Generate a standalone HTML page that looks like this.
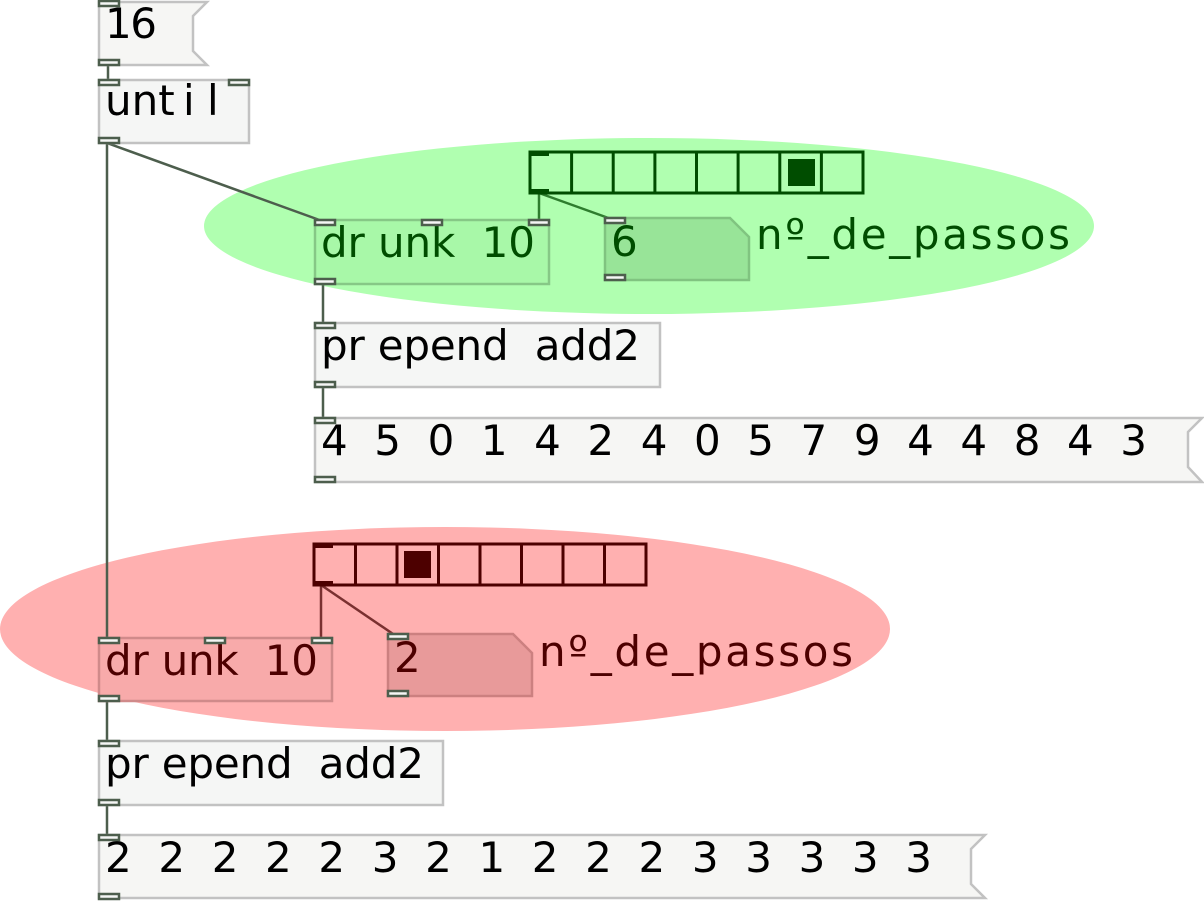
<!DOCTYPE html>
<html><head><meta charset="utf-8"><style>
html,body{margin:0;padding:0;background:#fff;width:1204px;height:901px;overflow:hidden}
text{font-family:"DejaVu Sans","Liberation Sans",sans-serif;font-size:42px;white-space:pre}
</style></head><body>
<svg width="1204" height="901" viewBox="0 0 1204 901" xmlns="http://www.w3.org/2000/svg" xml:space="preserve">
<ellipse cx="649" cy="226" rx="445" ry="88" fill="#b0ffb0"/>
<ellipse cx="445" cy="629" rx="445" ry="102" fill="#ffb0b0"/>

<g stroke="#4d5e4d" stroke-width="2.5" fill="none">
<line x1="108" y1="65" x2="108" y2="80"/>
<line x1="107" y1="143" x2="107" y2="640"/>
<line x1="107" y1="143" x2="325" y2="222"/>
<line x1="323" y1="284" x2="323" y2="325"/>
<line x1="323" y1="387" x2="323" y2="420"/>
<line x1="107" y1="701" x2="107" y2="743"/>
<line x1="107" y1="805" x2="107" y2="837"/>
</g>
<g stroke="#2e7d2e" stroke-width="2.5" fill="none">
<line x1="539" y1="193" x2="539" y2="222"/>
<line x1="539" y1="193" x2="614" y2="220"/>
</g>
<g stroke="#7a3030" stroke-width="2.5" fill="none">
<line x1="321" y1="585" x2="321" y2="640"/>
<line x1="321" y1="585" x2="396" y2="636"/>
</g>

<path d="M99,2 H207 L193,16 V51 L207,65 H99 Z" fill="#f6f6f4" stroke="#c2c2c2" stroke-width="2.5"/>
<text x="105" y="38" textLength="52" lengthAdjust="spacing">16</text>
<rect x="99" y="80" width="150" height="63" fill="#f5f6f5" stroke="#c2c2c2" stroke-width="2.5"/>
<text x="105" y="115">unt</text><text x="183" y="115">i</text><text x="207" y="115">l</text>

<rect x="315" y="220" width="234" height="64" fill="#a8f8a8" stroke="#86c886" stroke-width="2.5"/>
<text x="321" y="257" fill="#004d00" textLength="214" lengthAdjust="spacing">dr unk  10</text>
<path d="M605,218 H730 L749,237 V280 H605 Z" fill="#98e498" stroke="#80c480" stroke-width="2.5"/>
<text x="611" y="256" fill="#004d00">6</text>
<text x="756" y="249" fill="#004d00" textLength="314" lengthAdjust="spacing">nº_de_passos</text>
<g fill="none" stroke="#004d00" stroke-width="3">
<rect x="530" y="152" width="333" height="41"/>
<line x1="571.6" y1="152" x2="571.6" y2="193"/><line x1="613.2" y1="152" x2="613.2" y2="193"/>
<line x1="654.9" y1="152" x2="654.9" y2="193"/><line x1="696.5" y1="152" x2="696.5" y2="193"/>
<line x1="738.1" y1="152" x2="738.1" y2="193"/><line x1="779.8" y1="152" x2="779.8" y2="193"/>
<line x1="821.4" y1="152" x2="821.4" y2="193"/>
</g>
<rect x="788" y="159" width="27" height="27" fill="#004d00"/>
<rect x="529" y="151" width="20" height="5" fill="#004d00"/>
<rect x="529" y="189" width="20" height="5" fill="#004d00"/>

<rect x="315" y="323" width="345" height="64" fill="#f5f6f5" stroke="#c2c2c2" stroke-width="2.5"/>
<text x="321" y="360" textLength="319" lengthAdjust="spacing">pr epend  add2</text>
<path d="M315,418 H1202 L1188,432 V467 L1202,482 H315 Z" fill="#f6f6f4" stroke="#c2c2c2" stroke-width="2.5"/>
<text x="321" y="455" textLength="826" lengthAdjust="spacing">4  5  0  1  4  2  4  0  5  7  9  4  4  8  4  3</text>

<g fill="none" stroke="#4d0000" stroke-width="3">
<rect x="314" y="544" width="332" height="41"/>
<line x1="355.5" y1="544" x2="355.5" y2="585"/><line x1="397" y1="544" x2="397" y2="585"/>
<line x1="438.5" y1="544" x2="438.5" y2="585"/><line x1="480" y1="544" x2="480" y2="585"/>
<line x1="521.5" y1="544" x2="521.5" y2="585"/><line x1="563" y1="544" x2="563" y2="585"/>
<line x1="604.5" y1="544" x2="604.5" y2="585"/>
</g>
<rect x="404" y="551" width="27" height="27" fill="#4d0000"/>
<rect x="313" y="543" width="20" height="5" fill="#4d0000"/>
<rect x="313" y="581" width="20" height="5" fill="#4d0000"/>
<rect x="99" y="638" width="233" height="63" fill="#f8aaaa" stroke="#d08a8a" stroke-width="2.5"/>
<text x="105" y="675" fill="#4d0000" textLength="213" lengthAdjust="spacing">dr unk  10</text>
<path d="M388,634 H513 L532,653 V696 H388 Z" fill="#e89a9a" stroke="#cc8080" stroke-width="2.5"/>
<text x="394" y="672" fill="#4d0000">2</text>
<text x="539" y="666" fill="#4d0000" textLength="314" lengthAdjust="spacing">nº_de_passos</text>

<rect x="99" y="741" width="344" height="64" fill="#f5f6f5" stroke="#c2c2c2" stroke-width="2.5"/>
<text x="105" y="778" textLength="319" lengthAdjust="spacing">pr epend  add2</text>
<path d="M99,835 H985 L971,849 V884 L985,898 H99 Z" fill="#f6f6f4" stroke="#c2c2c2" stroke-width="2.5"/>
<text x="105" y="872" textLength="827" lengthAdjust="spacing">2  2  2  2  2  3  2  1  2  2  2  3  3  3  3  3</text>

<g fill="#f5f6f5" stroke="#4d5e4d" stroke-width="2.5">
<rect x="99" y="1" width="20" height="5"/><rect x="99" y="60" width="20" height="5"/>
<rect x="99" y="80" width="20" height="5"/><rect x="229" y="80" width="20" height="5"/><rect x="99" y="138" width="20" height="5"/>
<rect x="315" y="220" width="20" height="5"/><rect x="422" y="220" width="20" height="5"/><rect x="529" y="220" width="20" height="5"/><rect x="315" y="279" width="20" height="5"/>
<rect x="605" y="218" width="20" height="5"/><rect x="605" y="275" width="20" height="5"/>
<rect x="315" y="323" width="20" height="5"/><rect x="315" y="382" width="20" height="5"/>
<rect x="315" y="418" width="20" height="5"/><rect x="315" y="477" width="20" height="5"/>
<rect x="99" y="638" width="20" height="5"/><rect x="205" y="638" width="20" height="5"/><rect x="312" y="638" width="20" height="5"/><rect x="99" y="696" width="20" height="5"/>
<rect x="388" y="634" width="20" height="5"/><rect x="388" y="691" width="20" height="5"/>
<rect x="99" y="741" width="20" height="5"/><rect x="99" y="800" width="20" height="5"/>
<rect x="99" y="835" width="20" height="5"/><rect x="99" y="894" width="20" height="5"/>
</g>
</svg>
</body></html>
